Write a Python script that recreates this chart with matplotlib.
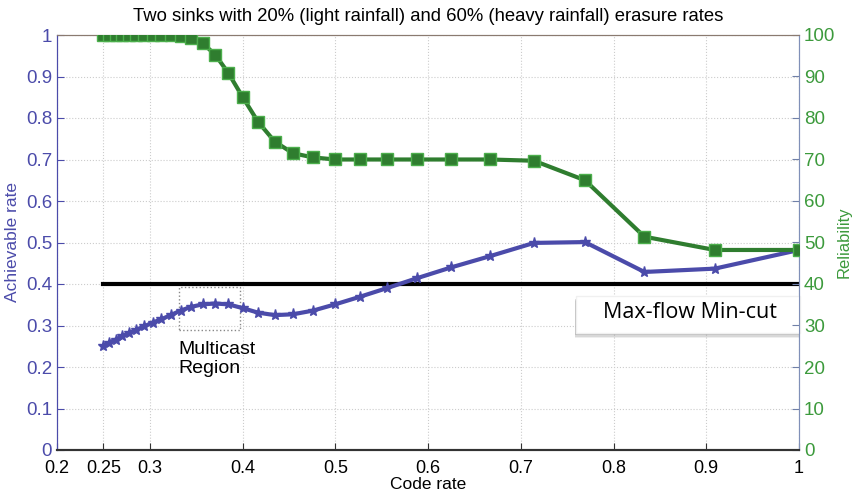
import matplotlib.pyplot as plt
from matplotlib.patches import Rectangle

plt.rcParams['font.family'] = ['Liberation Sans Narrow', 'Liberation Sans', 'DejaVu Sans']

# code rate = k/n
code_rate = [0.25, 0.2564, 0.2632, 0.2703, 0.2778, 0.2857, 0.2941, 0.3030, 0.3125, 0.3226,
             0.3333, 0.3448, 0.3571, 0.3704, 0.3846, 0.4, 0.4167, 0.4348, 0.4545, 0.4762,
             0.5, 0.5263, 0.5556, 0.5882, 0.625, 0.6667, 0.7143, 0.7692, 0.8333, 0.9091, 1.0]
achievable = [0.251, 0.259, 0.266, 0.274, 0.282, 0.290, 0.298, 0.307, 0.315, 0.325,
              0.336, 0.345, 0.351, 0.353, 0.351, 0.342, 0.331, 0.325, 0.327, 0.336,
              0.351, 0.369, 0.390, 0.414, 0.440, 0.467, 0.499, 0.501, 0.429, 0.437, 0.482]
reliability = [100, 100, 100, 100, 100, 100, 100, 100, 100, 100,
               99.7, 99.2, 98.0, 95.3, 90.9, 85.1, 79.1, 74.3, 71.5, 70.5,
               70.0, 70.0, 70.0, 70.0, 70.0, 70.0, 69.7, 65.0, 51.4, 48.2, 48.2]
maxflow = 0.4

xticks = [0.2, 0.25, 0.3, 0.4, 0.5, 0.6, 0.7, 0.8, 0.9, 1]
xticklabels = ['0.2', '0.25', '0.3', '0.4', '0.5', '0.6', '0.7', '0.8', '0.9', '1']

blue = '#4b4baa'
green = '#2f7d2f'
green_txt = '#3c9a3c'

fig = plt.figure(figsize=(8.54, 4.92), dpi=100)
ax = fig.add_axes([57 / 854, 42 / 492, 742 / 854, 415 / 492])
ax2 = ax.twinx()

ax.plot(code_rate, achievable, color=blue, lw=3, marker='*', ms=8, mec=blue, zorder=3)
ax.plot([0.25, 1], [maxflow, maxflow], color='black', lw=3, zorder=2)
ax2.plot(code_rate, reliability, color=green, lw=3, marker='s', ms=8,
         mfc=green, mec='#4caf4c', mew=1, zorder=3)

ax.set_xlim(0.2, 1)
ax.set_ylim(0, 1)
ax2.set_ylim(0, 100)
ax.set_xticks(xticks)
ax.set_xticklabels(xticklabels)
ax.set_yticks([i / 10 for i in range(11)])
ax.set_yticklabels(['0', '0.1', '0.2', '0.3', '0.4', '0.5', '0.6', '0.7', '0.8', '0.9', '1'])
ax2.set_yticks(range(0, 101, 10))

ax.grid(True, ls=':', color='#cccccc', lw=0.8)
ax.tick_params(direction='in', length=5, labelsize=13)
ax.tick_params(axis='y', colors=blue, labelsize=13.5)
ax.tick_params(axis='x', colors='#333333', labelcolor='black', pad=7)
ax2.tick_params(direction='in', length=5, colors='#7080a8', labelcolor=green_txt, labelsize=13.5)

for a in (ax, ax2):
    a.spines['left'].set_color(blue)
    a.spines['right'].set_color('#8090b8')
    a.spines['top'].set_color('#8a7a70')
    a.spines['bottom'].set_color('#333333')
    a.spines['bottom'].set_linewidth(1.5)

ax.set_xlabel('Code rate', fontsize=12.5, labelpad=0)
ax.set_ylabel('Achievable rate', fontsize=12.5, color=blue, labelpad=4)
ax2.set_ylabel('Reliability', fontsize=12, color=green_txt, labelpad=1)
ax.set_title('Two sinks with 20% (light rainfall) and 60% (heavy rainfall) erasure rates',
             fontsize=13.3, family=['Liberation Sans', 'DejaVu Sans'], pad=10)

# multicast region box
ax.add_patch(Rectangle((0.331, 0.29), 0.066, 0.102, fill=False, ls=':', lw=1, ec='#888888', zorder=1))
ax.text(0.331, 0.262, 'Multicast\nRegion', fontsize=14, family=['Liberation Sans', 'DejaVu Sans'],
        va='top', ha='left', linespacing=1.15)

# max-flow label box with soft shadow
for off, alpha in [(0.012, 0.12), (0.009, 0.18), (0.006, 0.25)]:
    ax.add_patch(Rectangle((0.759, 0.282 - off), 0.242, 0.089, fc='#777777', ec='none',
                           alpha=alpha, zorder=4, clip_on=False))
ax.add_patch(Rectangle((0.760, 0.282), 0.241, 0.089, fc='white', ec='#f0f0f0',
                       zorder=5, clip_on=False))
ax.text(0.882, 0.332, 'Max-flow Min-cut', fontsize=15.5, family=['Open Sans', 'DejaVu Sans'],
        ha='center', va='center', zorder=6)

fig.savefig('out.png', dpi=100)
